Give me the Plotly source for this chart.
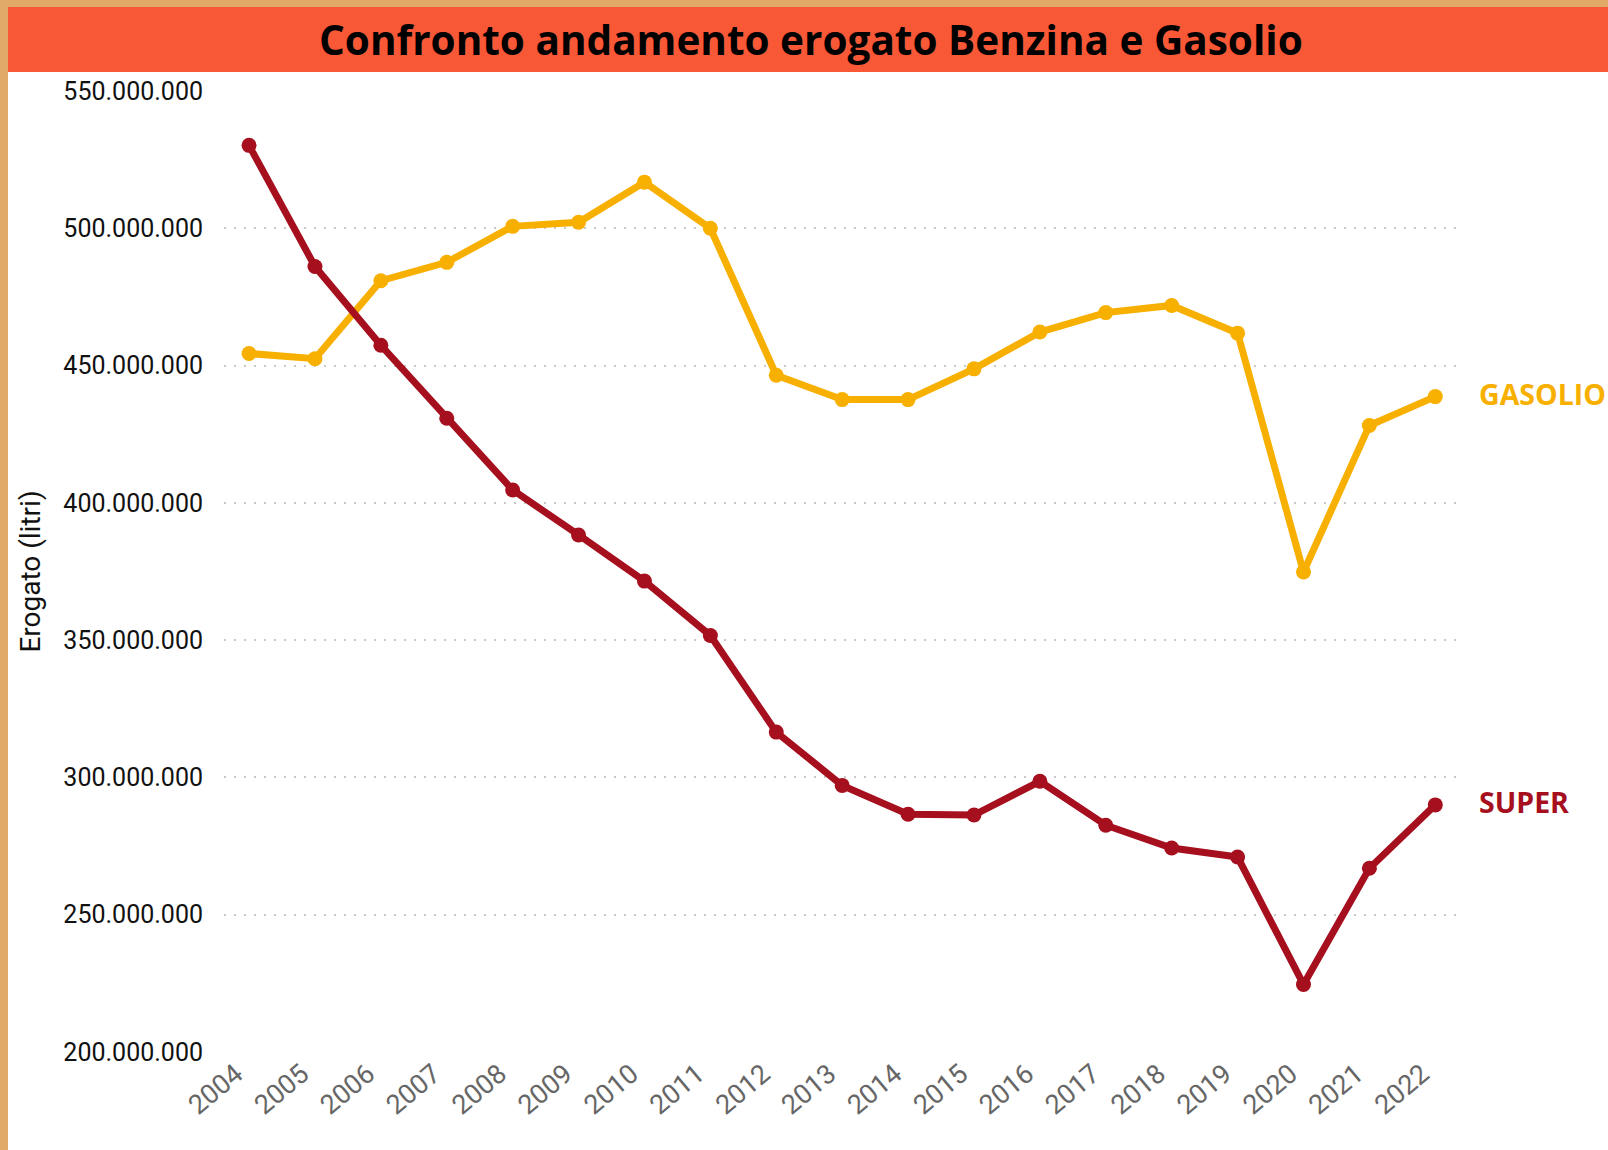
import plotly.graph_objects as go

years = [str(y) for y in range(2004, 2023)]
gasolio = [454.4, 452.5, 480.9, 487.6, 500.7, 502.2, 516.8, 500.0, 446.5, 437.6,
           437.6, 448.8, 462.2, 469.3, 471.9, 461.8, 374.8, 428.2, 438.7]
super_ = [530.2, 486.1, 457.4, 430.8, 404.7, 388.3, 371.5, 351.7, 316.5, 297.1,
          286.6, 286.3, 298.6, 282.6, 274.3, 271.0, 224.6, 266.9, 290.0]
gasolio = [v * 1e6 for v in gasolio]
super_ = [v * 1e6 for v in super_]

C_GAS = "#F8B000"
C_SUP = "#A60F1D"
C_BAR = "#F95837"
C_BORDER = "#E2AA68"

W, H = 1608, 1150
ML, MR, MT, MB = 224, 147, 91, 98
PW, PH = W - ML - MR, H - MT - MB

def px_x(px):
    return (px - ML) / PW

def px_y(py):
    return (H - MB - py) / PH

fig = go.Figure()
fig.add_trace(go.Scatter(x=years, y=gasolio, mode="lines+markers", name="GASOLIO",
                         line=dict(color=C_GAS, width=7), marker=dict(size=15, color=C_GAS),
                         showlegend=False, cliponaxis=False))
fig.add_trace(go.Scatter(x=years, y=super_, mode="lines+markers", name="SUPER",
                         line=dict(color=C_SUP, width=7), marker=dict(size=15, color=C_SUP),
                         showlegend=False, cliponaxis=False))

shapes = [
    dict(type="rect", xref="paper", yref="paper", x0=px_x(-5), x1=px_x(W + 5),
         y0=px_y(72), y1=px_y(7), fillcolor=C_BAR, line=dict(width=0), layer="above"),
    dict(type="rect", xref="paper", yref="paper", x0=px_x(-5), x1=px_x(W + 5),
         y0=px_y(7), y1=px_y(-5), fillcolor=C_BORDER, line=dict(width=0), layer="above"),
    dict(type="rect", xref="paper", yref="paper", x0=px_x(-5), x1=px_x(8),
         y0=px_y(H + 5), y1=px_y(7), fillcolor=C_BORDER, line=dict(width=0), layer="above"),
]

last = len(years) - 1
annotations = [
    dict(text="<b>Confronto andamento erogato Benzina e Gasolio</b>", xref="paper", yref="paper",
         x=px_x(811), y=px_y(39), xanchor="center", yanchor="middle", showarrow=False,
         font=dict(family="Open Sans", size=40.5, color="#000000")),
    dict(text="<b>GASOLIO</b>", xref="x", yref="y", x=last, y=gasolio[-1],
         xanchor="left", yanchor="middle", xshift=42, yshift=3, showarrow=False,
         font=dict(family="Open Sans", size=28.5, color=C_GAS)),
    dict(text="<b>SUPER</b>", xref="x", yref="y", x=last, y=super_[-1],
         xanchor="left", yanchor="middle", xshift=42, yshift=3, showarrow=False,
         font=dict(family="Open Sans", size=28.5, color=C_SUP)),
]

fig.update_layout(
    width=W, height=H,
    margin=dict(l=ML, r=MR, t=MT, b=MB),
    paper_bgcolor="white", plot_bgcolor="white",
    separators=",.",
    shapes=shapes, annotations=annotations,
    font=dict(family="Roboto"),
    xaxis=dict(type="category", range=[-0.38, 18.39], showgrid=False, zeroline=False,
               showline=False, tickangle=-40, ticks="", ticklabelshift=-13,
               tickfont=dict(family="Roboto", size=27, color="#666666")),
    yaxis=dict(range=[200e6, 550e6], dtick=50e6, tickformat=",d", showgrid=True,
               gridcolor="#C8C8C8", griddash="2px,8px", gridwidth=1.5, zeroline=False,
               showline=False, ticks="", ticklabelstandoff=20,
               tickfont=dict(family="Roboto", size=25, color="#111111"),
               title=dict(text="Erogato (litri)", standoff=14,
                          font=dict(family="Roboto", size=28, color="#111111"))),
)

fig.write_html("out.html", config={"displayModeBar": False},
               post_script="document.body.style.margin='0';")
